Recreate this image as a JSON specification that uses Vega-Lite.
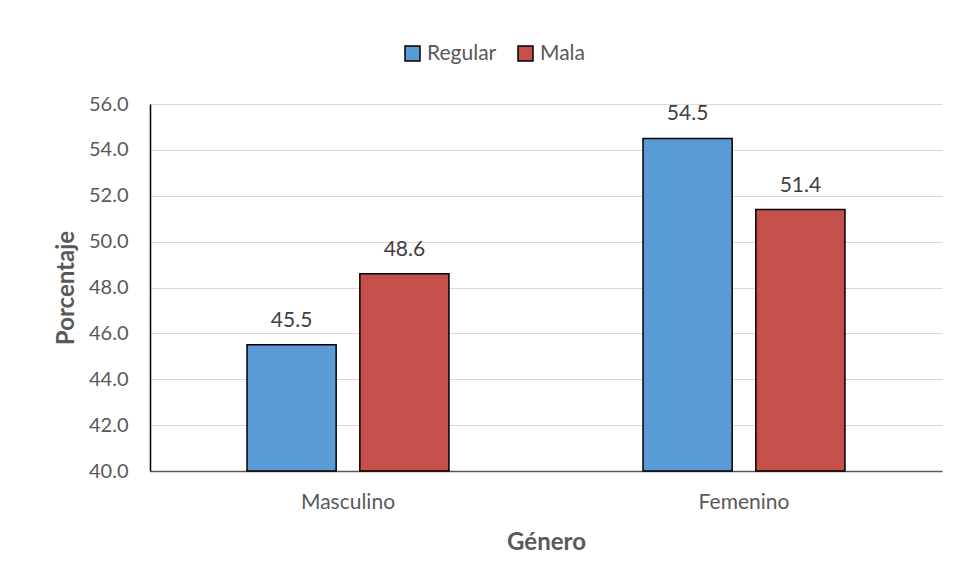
{
  "$schema": "https://vega.github.io/schema/vega-lite/v6.json",
  "autosize": "none",
  "width": 792,
  "height": 367,
  "padding": {"left": 150, "top": 104, "right": 17, "bottom": 112},
  "background": "white",
  "data": {
    "values": [
      {"genero": "Masculino", "nivel": "Regular", "pct": 45.5},
      {"genero": "Masculino", "nivel": "Mala", "pct": 48.6},
      {"genero": "Femenino", "nivel": "Regular", "pct": 54.5},
      {"genero": "Femenino", "nivel": "Mala", "pct": 51.4}
    ]
  },
  "encoding": {
    "x": {
      "field": "genero",
      "type": "nominal",
      "sort": ["Masculino", "Femenino"],
      "scale": {"paddingInner": 0.49, "paddingOuter": 0.245},
      "axis": {
        "title": "Género",
        "ticks": false,
        "labelAngle": 0,
        "labelPadding": 20,
        "labelFontSize": 21,
        "titlePadding": 18,
        "domainColor": "#595959",
        "domainWidth": 1.5
      }
    },
    "xOffset": {
      "field": "nivel",
      "type": "nominal",
      "sort": ["Regular", "Mala"],
      "scale": {"paddingInner": 0.21, "paddingOuter": 0}
    },
    "y": {
      "field": "pct",
      "type": "quantitative",
      "scale": {"domain": [40, 56], "zero": false, "nice": false},
      "axis": {
        "title": "Porcentaje",
        "values": [40, 42, 44, 46, 48, 50, 52, 54, 56],
        "format": ".1f",
        "ticks": false,
        "labelPadding": 22,
        "titlePadding": 10,
        "domainColor": "#000000",
        "domainWidth": 1.5,
        "grid": true,
        "gridColor": "#d9d9d9",
        "gridWidth": 1
      }
    }
  },
  "layer": [
    {
      "mark": {"type": "bar", "stroke": "#000000", "strokeWidth": 1.5},
      "encoding": {
        "y2": {"datum": 40},
        "color": {
          "field": "nivel",
          "type": "nominal",
          "sort": ["Regular", "Mala"],
          "scale": {"domain": ["Regular", "Mala"], "range": ["#5b9bd5", "#c5504b"]},
          "legend": {
            "title": null,
            "orient": "none",
            "direction": "horizontal",
            "legendX": 252,
            "legendY": -61,
            "symbolType": "square",
            "symbolSize": 225,
            "symbolStrokeColor": "#000000",
            "symbolStrokeWidth": 1.5,
            "labelFontSize": 21,
            "labelColor": "#595959",
            "labelFont": "Lato",
            "columnPadding": 18,
            "labelOffset": 4
          }
        }
      }
    },
    {
      "mark": {"type": "text", "baseline": "alphabetic", "dy": -18, "fontSize": 21, "color": "#404040", "font": "Lato"},
      "encoding": {
        "text": {"field": "pct", "type": "quantitative", "format": ".1f"}
      }
    }
  ],
  "config": {
    "view": {"stroke": null},
    "axis": {
      "labelFont": "Lato",
      "labelFontSize": 20,
      "labelColor": "#595959",
      "titleFont": "Lato",
      "titleFontSize": 24,
      "titleFontWeight": "bold",
      "titleColor": "#595959"
    }
  }
}
